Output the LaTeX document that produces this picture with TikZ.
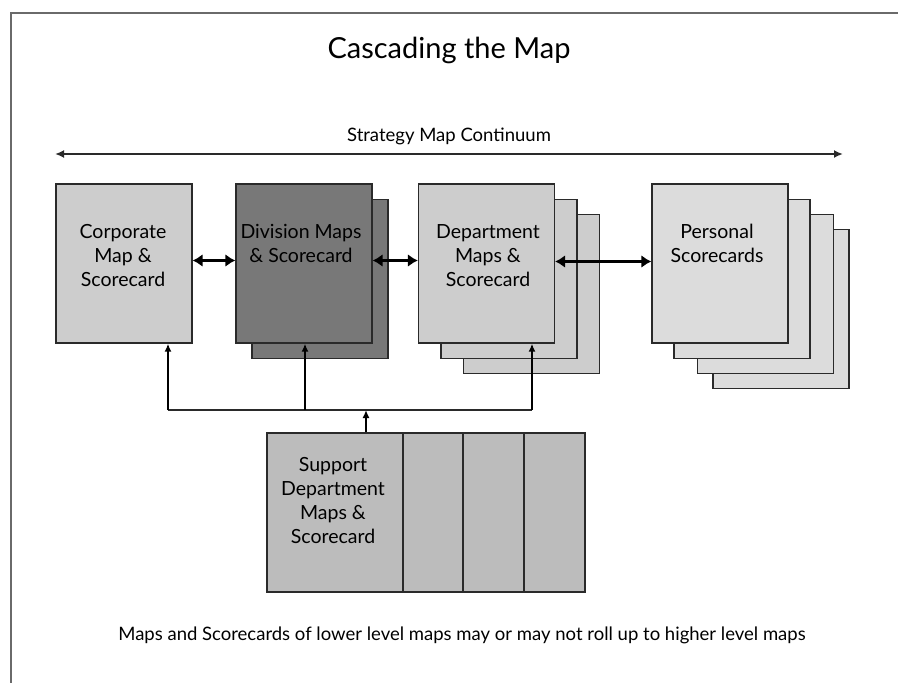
\documentclass[tikz,border=0pt]{standalone}
\usepackage{fontspec}
\setmainfont{Lato}
\usetikzlibrary{arrows.meta}
\definecolor{frameline}{HTML}{6A6A6A}
\definecolor{lightcard}{HTML}{CDCDCD}
\definecolor{palecard}{HTML}{DCDCDC}
\definecolor{darkcard}{HTML}{787878}
\definecolor{supportcard}{HTML}{BCBCBC}
\definecolor{edge}{HTML}{2A2A2A}
\begin{document}
\begin{tikzpicture}[x=1pt,y=-1pt,
  card/.style={draw=edge, line width=1.3pt, minimum width=136pt, minimum height=159pt, inner sep=0pt},
  cardtext/.style={font=\fontsize{19.5}{24}\selectfont, align=center, anchor=north, inner sep=0pt},
  link/.style={line width=3.2pt, {Latex[length=10pt,width=13pt]}-{Latex[length=10pt,width=13pt]}},
  rollup/.style={line width=1.8pt, -{Latex[length=8pt,width=7pt]}},
  bus/.style={line width=1.4pt, edge}
]
\useasboundingbox (0,0) rectangle (898,683);
% outer frame (left and top edges only)
\draw[frameline, line width=2pt] (11,683) -- (11,13) -- (898,13);

% title
\node[font=\fontsize{29}{32}\selectfont] (title) at (449,50) {Cascading the Map};

% continuum arrow
\node[font=\fontsize{18.5}{20}\selectfont] (cont) at (449,136) {Strategy Map Continuum};
\coordinate (contL) at (55,154);
\coordinate (contR) at (843,154);
\draw[edge, line width=2pt, {Latex[length=9pt,width=8pt]}-{Latex[length=9pt,width=8pt]}] (contL) -- (contR);

% corporate
\node[card, fill=lightcard] (corp) at (124,263.5) {};
\node[cardtext] (corpT) at (123,224) {Corporate\\Map \&\\Scorecard};

% division (two sheets)
\node[card, fill=darkcard] (divB) at (320,279) {};
\node[card, fill=darkcard] (div) at (304,263.5) {};
\node[cardtext] (divT) at (301,224) {Division Maps\\\& Scorecard};

% department (three sheets)
\node[card, fill=lightcard] (depC) at (531.5,294) {};
\node[card, fill=lightcard] (depB) at (509,279) {};
\node[card, fill=lightcard] (dep) at (486.5,263.5) {};
\node[cardtext] (depT) at (488,224) {Department\\Maps \&\\Scorecard};

% personal (four sheets)
\node[card, fill=palecard] (perD) at (781,309) {};
\node[card, fill=palecard] (perC) at (765.5,294) {};
\node[card, fill=palecard] (perB) at (742,279) {};
\node[card, fill=palecard] (per) at (720,263.5) {};
\node[cardtext] (perT) at (717,224) {Personal\\Scorecards};

% links along the continuum
\draw[link] ([yshift=3pt]corp.east) -- ([yshift=3pt]div.west);
\draw[link] ([yshift=3pt]div.east) -- ([yshift=3pt]dep.west);
\draw[link] ([yshift=2pt]dep.east) -- ([yshift=2pt]per.west);

% support department strip
\node[draw=edge, line width=1.3pt, fill=supportcard, minimum width=318pt, minimum height=159pt, inner sep=0pt] (sup) at (426,512.5) {};
\coordinate (supA) at (403,433);
\coordinate (supB) at (463,433);
\coordinate (supC) at (524,433);
\draw[edge, line width=1.3pt] (supA) -- (supA |- sup.south);
\draw[edge, line width=1.3pt] (supB) -- (supB |- sup.south);
\draw[edge, line width=1.3pt] (supC) -- (supC |- sup.south);
\node[cardtext] (supT) at (333,457) {Support\\Department\\Maps \&\\Scorecard};

% roll-up bus
\coordinate (busL) at (168,410);
\coordinate (busM) at (305,410);
\coordinate (busR) at (532,410);
\coordinate (busS) at (366,410);
\draw[bus] (busL) -- (busR);
\draw[rollup] (busL) -- (busL |- corp.south);
\draw[rollup] (busM) -- (busM |- div.south);
\draw[rollup] (busR) -- (busR |- dep.south);
\draw[rollup, line width=2.2pt] (busS |- sup.north) -- (busS);

% note
\node[font=\fontsize{18.5}{20}\selectfont] (note) at (462,635) {Maps and Scorecards of lower level maps may or may not roll up to higher level maps};
\end{tikzpicture}
\end{document}
